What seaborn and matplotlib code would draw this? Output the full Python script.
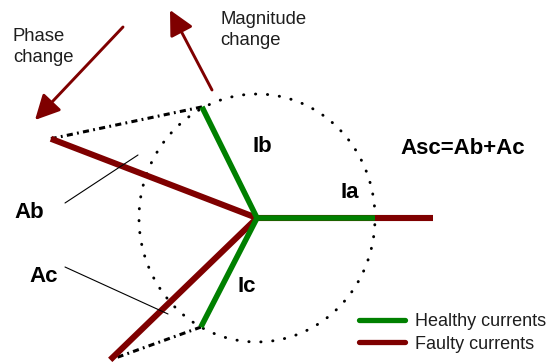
import numpy as np
import pandas as pd
import matplotlib
matplotlib.use("Agg")
import matplotlib.pyplot as plt
from matplotlib.lines import Line2D
import seaborn as sns

# ---- data (per-unit magnitudes, angles in degrees) ----
phases = ["a", "b", "c"]
healthy_mag = [1.0, 1.01, 1.0]
healthy_ang = [0.0, 117.5, -118.4]
faulty_mag = [1.49, 1.86, 1.69]
faulty_ang = [0.0, 159.9, -137.4]
phase_labels = ["Ia", "Ib", "Ic"]
fault_labels = ["Ab", "Ac"]
legend_labels = ["Healthy currents", "Faulty currents"]
formula = "Asc=Ab+Ac"
arrow_labels = ["Phase\nchange", "Magnitude\nchange"]

GREEN = "#008000"
RED = "#7f0000"
TXT = "#1e1e1e"

sns.set_style("white")
plt.rcParams["font.family"] = ["Liberation Sans", "DejaVu Sans"]


def phasor_frame(mag, ang, state):
    rows = []
    for p, m, a in zip(phases, mag, ang):
        t = np.deg2rad(a)
        rows.append(dict(phase=p, state=state, x=0.0, y=0.0))
        rows.append(dict(phase=p, state=state, x=m * np.cos(t), y=m * np.sin(t)))
    return pd.DataFrame(rows)


healthy = phasor_frame(healthy_mag, healthy_ang, legend_labels[0])
faulty = phasor_frame(faulty_mag, faulty_ang, legend_labels[1])

fig = plt.figure(figsize=(5.5, 3.64), dpi=100)
ax = fig.add_axes([0, 0, 1, 1])
ax.set_xlim(-257 / 118, 293 / 118)
ax.set_ylim(-146 / 124, 218 / 124)
ax.axis("off")


def P(x, y):
    return (x / 550, 1 - y / 364)


# dotted circle of healthy magnitude
th = np.linspace(0, 2 * np.pi, 400)
ax.plot(np.cos(th), np.sin(th), color="black", lw=2.1,
        linestyle=(0, (0.1, 4.0)), dash_capstyle="round", zorder=1)

# connectors between healthy and faulty tips (phases b and c)
htips = healthy.iloc[1::2].reset_index(drop=True)
ftips = faulty.iloc[1::2].reset_index(drop=True)
for i in (1, 2):
    ax.plot([htips.x[i], ftips.x[i]], [htips.y[i], ftips.y[i]], color="black",
            lw=2.2, linestyle=(0, (2.0, 1.4, 0.6, 1.4)), dash_capstyle="butt", zorder=1)

sns.lineplot(data=faulty, x="x", y="y", units="phase", estimator=None, sort=False,
             color=RED, lw=4.4, legend=False, ax=ax, zorder=2, solid_capstyle="butt")
sns.lineplot(data=healthy, x="x", y="y", units="phase", estimator=None, sort=False,
             color=GREEN, lw=4.0, legend=False, ax=ax, zorder=3, solid_capstyle="butt")
ax.set_xlabel("")
ax.set_ylabel("")

# arrows
aprops = dict(arrowstyle="-|>,head_length=0.75,head_width=0.38", color=RED, lw=2.1,
              mutation_scale=20, shrinkA=0, shrinkB=0)
ax.annotate("", xy=P(35, 120), xytext=P(123, 27), xycoords="axes fraction",
            textcoords="axes fraction", arrowprops=aprops)
ax.annotate("", xy=P(170, 10), xytext=P(212, 90), xycoords="axes fraction",
            textcoords="axes fraction", arrowprops=aprops)
ax.text(*P(13, 47), arrow_labels[0], transform=ax.transAxes, fontsize=13.3,
        ha="left", va="center", color=TXT, linespacing=1.3)
ax.text(*P(220, 30), arrow_labels[1], transform=ax.transAxes, fontsize=13.3,
        ha="left", va="center", color=TXT, linespacing=1.3)

# leader lines
ax.plot([65 / 550, 138 / 550], [1 - 203 / 364, 1 - 155 / 364], color="black", lw=0.8,
        transform=ax.transAxes)
ax.plot([65 / 550, 168 / 550], [1 - 267 / 364, 1 - 314 / 364], color="black", lw=0.8,
        transform=ax.transAxes)

bold = dict(transform=ax.transAxes, fontsize=16, fontweight="bold", ha="center",
            va="center", color="black")
ax.text(*P(350, 193), phase_labels[0], **bold)
ax.text(*P(262, 146), phase_labels[1], **bold)
ax.text(*P(247, 287), phase_labels[2], **bold)
ax.text(*P(29, 212), fault_labels[0], **bold)
ax.text(*P(44, 276), fault_labels[1], **bold)
ax.text(*P(463, 149), formula, **bold)

handles = [Line2D([], [], color=GREEN, lw=3.8), Line2D([], [], color=RED, lw=3.8)]
leg = ax.legend(handles, legend_labels, loc="center left", bbox_to_anchor=P(359, 333),
                frameon=False, fontsize=13, handlelength=2.55, handletextpad=0.55,
                labelspacing=0.28, borderpad=0.0, borderaxespad=0.0)
for t in leg.get_texts():
    t.set_color(TXT)

fig.savefig("out.png", dpi=100)
